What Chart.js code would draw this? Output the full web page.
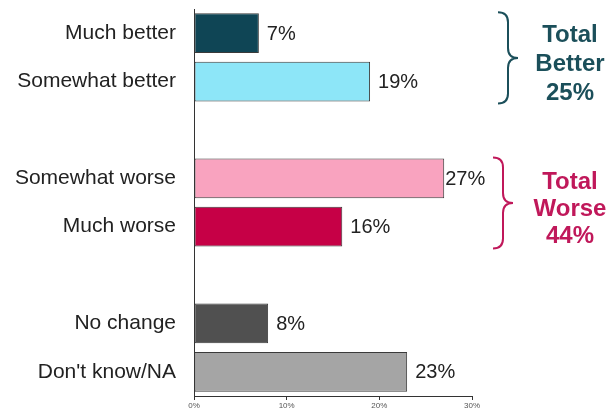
<!DOCTYPE html>
<html>
<head>
<meta charset="utf-8">
<script src="https://cdn.jsdelivr.net/npm/chart.js@4/dist/chart.umd.min.js"></script>
<style>
  html, body { margin: 0; padding: 0; background: #fff; }
  #wrap { width: 609px; height: 414px; }
</style>
</head>
<body>
<div id="wrap"><canvas id="chart"></canvas></div>
<script>
// categories, empty strings are the gaps between groups
const categories = ['Much better', 'Somewhat better', '', 'Somewhat worse', 'Much worse', '', 'No change', "Don't know/NA"];
const values = [7, 19, null, 27, 16, null, 8, 23];
const barColors = ['#0f4555', '#8de6f8', '#fff', '#f9a3bf', '#c60046', '#fff', '#505050', '#a5a5a5'];
const xTicks = [0, 10, 20, 30];

// bracket groups: first/last category index, text lines, colour
const totalLabels = [
    { from: 0, to: 1, lines: ['Total', 'Better', '25%'], color: '#1b4f5a' },
    { from: 3, to: 4, lines: ['Total', 'Worse', '44%'], color: '#c0185a' }
];

const FONT = "'Liberation Sans', Arial, sans-serif";

// value labels at the end of bars + curly brackets with totals
const extras = {
    id: 'extras',
    afterDatasetsDraw(chart) {
        const c = chart.ctx;
        const meta = chart.getDatasetMeta(0);
        c.save();
        c.font = '20px ' + FONT;
        c.fillStyle = '#222';
        c.textBaseline = 'middle';
        c.textAlign = 'left';
        meta.data.forEach((bar, i) => {
            if (values[i] == null) return;
            const gap = values[i] >= 25 ? 1 : 8;
            c.fillText(values[i] + '%', bar.x + gap, bar.y + 1);
        });

        totalLabels.forEach((g, k) => {
            const b1 = meta.data[g.from], b2 = meta.data[g.to];
            const top = b1.y - b1.height / 2 - 1;
            const bottom = b2.y + b2.height / 2 + 2;
            const mid = (top + bottom) / 2;
            const x = k === 0 ? 498 : 493;
            const r = 10;
            c.strokeStyle = g.color;
            c.lineWidth = 2;
            c.beginPath();
            c.moveTo(x, top);
            c.quadraticCurveTo(x + r, top, x + r, top + r);
            c.lineTo(x + r, mid - r);
            c.quadraticCurveTo(x + r, mid, x + 2 * r, mid);
            c.quadraticCurveTo(x + r, mid, x + r, mid + r);
            c.lineTo(x + r, bottom - r);
            c.quadraticCurveTo(x + r, bottom, x, bottom);
            c.stroke();

            c.fillStyle = g.color;
            c.font = 'bold 24px ' + FONT;
            c.textAlign = 'center';
            const step = k === 0 ? 29 : 27;
            const cy = mid + 6;
            g.lines.forEach((t, j) => {
                c.fillText(t, 570, cy + (j - 1) * step);
            });
        });
        c.restore();
    }
};

new Chart(document.getElementById('chart'), {
    type: 'bar',
    data: {
        labels: categories,
        datasets: [{
            data: values,
            backgroundColor: barColors,
            borderColor: '#3a3a3a',
            borderWidth: 1,
            borderSkipped: false,
            barPercentage: 0.82,
            categoryPercentage: 1.0
        }]
    },
    options: {
        indexAxis: 'y',
        responsive: true,
        maintainAspectRatio: false,
        animation: false,
        layout: { padding: { left: 0, right: 137, top: 9, bottom: 0 } },
        plugins: {
            legend: { display: false },
            tooltip: { enabled: false }
        },
        scales: {
            x: {
                min: 0,
                max: 30,
                afterBuildTicks: (s) => { s.ticks = xTicks.map(v => ({ value: v })); },
                afterFit: (s) => { s.height = 18; },
                grid: { display: true, drawOnChartArea: false, drawTicks: true, tickLength: 4, color: '#333' },
                border: { color: '#333', width: 1 },
                ticks: {
                    padding: 1,
                    color: '#555',
                    font: { family: FONT, size: 8 },
                    callback: (v) => v + '%'
                }
            },
            y: {
                afterFit: (s) => { s.width = 194; s.paddingTop = 0; s.paddingBottom = 0; },
                grid: { display: false, drawTicks: false },
                border: { color: '#333', width: 1 },
                ticks: {
                    padding: 18,
                    color: '#222',
                    font: { family: FONT, size: 21 }
                }
            }
        }
    },
    plugins: [extras]
});
</script>
</body>
</html>
